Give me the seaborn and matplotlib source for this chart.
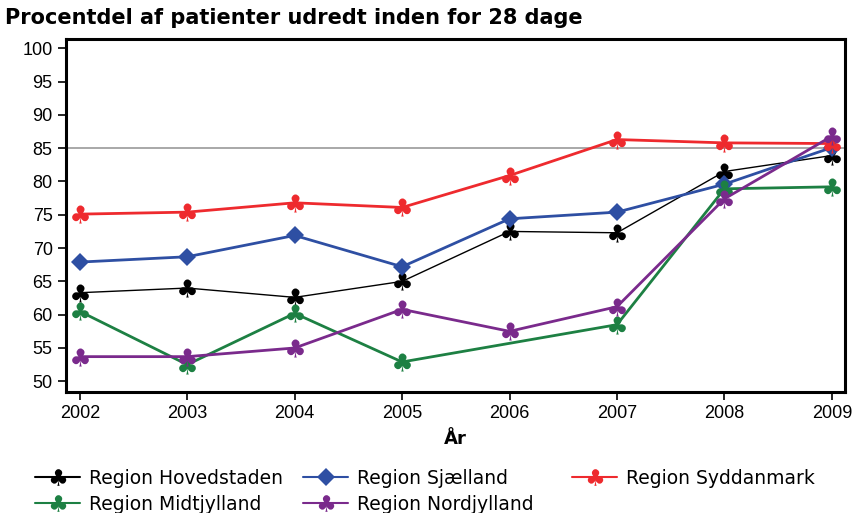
import numpy as np
import pandas as pd
import matplotlib.pyplot as plt
import seaborn as sns
from matplotlib.lines import Line2D

years = [2002, 2003, 2004, 2005, 2006, 2007, 2008, 2009]
hovedstaden = [63.3, 64.0, 62.6, 65.0, 72.5, 72.3, 81.5, 83.9]
sjaelland = [67.9, 68.7, 71.9, 67.2, 74.4, 75.4, 79.6, 85.1]
syddanmark = [75.1, 75.4, 76.8, 76.1, 80.9, 86.3, 85.8, 85.7]
midtjylland = [60.5, 52.5, 60.2, 52.9, np.nan, 58.5, 78.9, 79.2]
nordjylland = [53.7, 53.7, 55.0, 60.8, 57.5, 61.2, 77.4, 86.8]

regions = ["Region Hovedstaden", "Region Sjælland", "Region Syddanmark",
           "Region Midtjylland", "Region Nordjylland"]
series = [hovedstaden, sjaelland, syddanmark, midtjylland, nordjylland]

df = pd.DataFrame({
    "År": np.tile(years, len(regions)),
    "Region": np.repeat(regions, len(years)),
    "Pct": np.concatenate(series),
}).dropna()

colors = {
    "Region Hovedstaden": "#000000",
    "Region Sjælland": "#2E4FA3",
    "Region Syddanmark": "#EE2A2E",
    "Region Midtjylland": "#1D8043",
    "Region Nordjylland": "#7A2A8C",
}
club = r"$\clubsuit$"
markers = {r: club for r in regions}
markers["Region Sjælland"] = "D"
widths = {r: 2.0 for r in regions}
widths["Region Hovedstaden"] = 1.0

sns.set_style("white")
plt.rcParams["font.family"] = ["Liberation Sans", "DejaVu Sans"]
plt.rcParams["text.color"] = "black"

W, H = 855, 513
fig = plt.figure(figsize=(W / 100, H / 100), dpi=100)
ax = fig.add_axes([0.077, 0.236, 0.911, 0.688])

ax.axhline(85, color="#999999", lw=1.2, zorder=1)

sns.lineplot(data=df, x="År", y="Pct", hue="Region", style="Region",
             size="Region", sizes=widths, palette=colors, markers=markers,
             dashes=False, markersize=13, markeredgewidth=0,
             legend=False, ax=ax, zorder=3)
for ln in ax.lines:
    if ln.get_marker() == "D":
        ln.set_markersize(9)

ax.set_xlim(2001.87, 2009.12)
ax.set_ylim(48.4, 101.4)
ax.set_xticks(years)
ax.set_yticks(range(50, 101, 5))
ax.tick_params(axis="both", direction="out", length=6, width=1.2,
               labelsize=13, colors="black", left=True, bottom=True)
for s in ax.spines.values():
    s.set_color("black")
    s.set_linewidth(2.2)
ax.set_xlabel("År", fontsize=13, fontweight="bold", labelpad=6,
              family="DejaVu Sans", color="black")
ax.set_ylabel("")

fig.text(0.006, 0.964, "Procentdel af patienter udredt inden for 28 dage",
         fontsize=15, fontweight="bold", ha="left", va="center",
         family="DejaVu Sans", color="black")


def handle(r):
    m = markers[r]
    return Line2D([], [], color=colors[r], lw=1.5, marker=m,
                  markersize=12 if m != "D" else 9, markeredgewidth=0)


columns = [["Region Hovedstaden", "Region Midtjylland"],
           ["Region Sjælland", "Region Nordjylland"],
           ["Region Syddanmark"]]
col_x = [35, 303, 572]
for names, x in zip(columns, col_x):
    leg = fig.legend([handle(r) for r in names], names, loc="upper left",
                     bbox_to_anchor=(x / W, 1 - 469 / H), frameon=False,
                     prop={"family": "DejaVu Sans", "size": 13.5},
                     handlelength=2.4, handletextpad=0.5, labelspacing=0.35,
                     borderpad=0, borderaxespad=0)
    for t in leg.get_texts():
        t.set_color("black")

fig.savefig("out.png", dpi=100)
